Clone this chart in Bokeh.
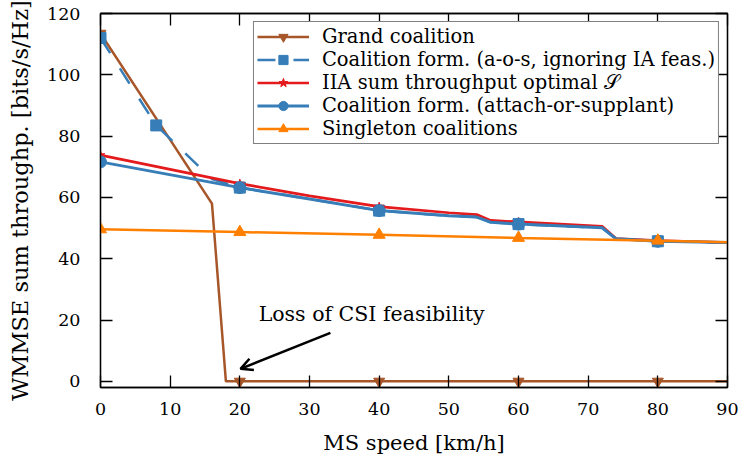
import numpy as np
from bokeh.plotting import figure
from bokeh.models import (Range1d, LinearAxis, FixedTicker, Legend, LegendItem,
                          Label, Arrow, OpenHead, CustomLabelingPolicy)
from bokeh.embed import file_html
from bokeh.resources import INLINE

# ---- data ----
speed_grand = [0, 16, 18, 20, 40, 60, 80, 90]
thr_grand = [113.5, 58, 0, 0, 0, 0, 0, 0]

speed_aos = [0, 8, 16, 20, 30, 40, 50, 54, 56, 60, 72, 74, 80, 90]
thr_aos = [112, 83.5, 66, 63.2, 59.5, 55.7, 54, 53.6, 51.9, 51.3, 50.1, 46.5, 45.7, 45.3]

speed_iia = [0, 20, 30, 40, 50, 54, 56, 60, 72, 74, 80, 90]
thr_iia = [73.8, 64.5, 60.5, 57, 55, 54.4, 52.5, 52, 50.6, 46.6, 45.9, 45.3]

speed_att = [0, 20, 30, 40, 50, 54, 56, 60, 72, 74, 80, 90]
thr_att = [71.6, 63.2, 59.5, 55.7, 54, 53.6, 51.9, 51.3, 50.1, 46.5, 45.7, 45.3]

speed_single = [0, 20, 40, 60, 80, 90]
thr_single = [49.6, 48.7, 47.8, 46.8, 45.9, 45.4]

mark_grand = [0, 20, 40, 60, 80]
mark_aos = [0, 8, 20, 40, 60, 80]
mark_std = [0, 20, 40, 60, 80]

x_ticks = [0, 10, 20, 30, 40, 50, 60, 70, 80, 90]
y_ticks = [0, 20, 40, 60, 80, 100, 120]

labels = ["Grand coalition",
          "Coalition form. (a-o-s, ignoring IA feas.)",
          "IIA sum throughput optimal \U0001D4AE",
          "Coalition form. (attach-or-supplant)",
          "Singleton coalitions"]

annot_text = "Loss of CSI feasibility"

FONT = "DejaVu Serif"
BROWN, BLUE, RED, ORANGE = "#a65628", "#377eb8", "#e41a1c", "#ff7f00"


def pick(xs, ys, keep):
    xs = np.asarray(xs, float)
    ys = np.asarray(ys, float)
    m = np.isin(xs, keep)
    return xs[m], ys[m]


p = figure(width=741, height=459, output_backend="svg", toolbar_location=None,
           x_range=Range1d(0, 90), y_range=Range1d(-2, 120),
           min_border_left=100, min_border_right=14, min_border_top=13, min_border_bottom=72)
p.xgrid.visible = False
p.ygrid.visible = False
p.outline_line_color = "black"
p.outline_line_width = 1.3
p.background_fill_color = "white"
p.border_fill_color = "white"

# series
r1 = p.line(speed_grand, thr_grand, color=BROWN, line_width=2.5)
mx, my = pick(speed_grand, thr_grand, mark_grand)
s1 = p.scatter(mx, my, marker="inverted_triangle", size=11, color=BROWN)

r2 = p.line(speed_aos, thr_aos, color=BLUE, line_width=2.5, line_dash="18 18")
mx, my = pick(speed_aos, thr_aos, mark_aos)
s2 = p.scatter(mx, my, marker="square", size=11, color=BLUE)

r3 = p.line(speed_iia, thr_iia, color=RED, line_width=2.7)
mx, my = pick(speed_iia, thr_iia, mark_std)
s3 = p.scatter(mx, my, marker="star", size=9, color=RED)

r4 = p.line(speed_att, thr_att, color=BLUE, line_width=3)
mx, my = pick(speed_att, thr_att, mark_std)
s4 = p.scatter(mx, my, marker="circle", size=12, color=BLUE)

r5 = p.line(speed_single, thr_single, color=ORANGE, line_width=2.5)
mx, my = pick(speed_single, thr_single, mark_std)
s5 = p.scatter(mx, my, marker="triangle", size=12, color=ORANGE)

# axes
for ax in (p.xaxis[0], p.yaxis[0]):
    ax.major_tick_in = 12
    ax.major_tick_out = 0
    ax.minor_tick_in = 0
    ax.minor_tick_out = 0
    ax.axis_line_width = 1.3
    ax.major_tick_line_width = 1.3
    ax.major_label_text_font = FONT
    ax.major_label_text_font_size = "17.5px"
    ax.major_label_text_color = "black"
    ax.axis_label_text_font = FONT
    ax.axis_label_text_font_style = "normal"
    ax.axis_label_text_color = "black"

p.xaxis[0].ticker = FixedTicker(ticks=x_ticks)
p.yaxis[0].ticker = FixedTicker(ticks=y_ticks)
p.xaxis[0].axis_label = "MS speed [km/h]"
p.yaxis[0].axis_label = "WMMSE sum throughp. [bits/s/Hz]"
p.xaxis[0].axis_label_text_font_size = "21px"
p.yaxis[0].axis_label_text_font_size = "22.5px"
p.xaxis[0].major_label_standoff = 15
p.xaxis[0].axis_label_standoff = 13
p.yaxis[0].major_label_standoff = 20
p.yaxis[0].axis_label_standoff = 11

# mirrored tick axes (top / right) without labels
top = LinearAxis(ticker=FixedTicker(ticks=x_ticks), major_label_text_font_size="1px",
                 major_label_policy=CustomLabelingPolicy(code="return []"),
                 major_tick_in=12, major_tick_out=0, minor_tick_in=0, minor_tick_out=0,
                 major_label_standoff=0, axis_line_width=1.3, major_tick_line_width=1.3)
right = LinearAxis(ticker=FixedTicker(ticks=y_ticks), major_label_text_font_size="1px",
                   major_label_policy=CustomLabelingPolicy(code="return []"),
                   major_tick_in=12, major_tick_out=0, minor_tick_in=0, minor_tick_out=0,
                   major_label_standoff=0, axis_line_width=1.3, major_tick_line_width=1.3)
p.add_layout(top, "above")
p.add_layout(right, "right")

# annotation
p.add_layout(Label(x=22.7, y=22.1, text=annot_text, text_font=FONT,
                   text_font_size="20.5px", text_baseline="middle", text_align="left",
                   text_color="black"))
p.add_layout(Arrow(x_start=33.0, y_start=15.8, x_end=20.1, y_end=4.1,
                   line_width=2.5, line_color="black",
                   end=OpenHead(size=12, line_width=2.5, line_color="black")))

legend = Legend(items=[LegendItem(label=labels[0], renderers=[r1, s1]),
                       LegendItem(label=labels[1], renderers=[r2, s2]),
                       LegendItem(label=labels[2], renderers=[r3, s3]),
                       LegendItem(label=labels[3], renderers=[r4, s4]),
                       LegendItem(label=labels[4], renderers=[r5, s5])],
                location="top_right", margin=8, padding=3, spacing=0,
                glyph_width=52, glyph_height=23, label_height=23, label_standoff=13,
                label_text_font=FONT, label_text_font_size="19.5px",
                label_text_baseline="middle", label_text_color="black",
                border_line_color="black", border_line_width=1.2,
                background_fill_color="white", background_fill_alpha=1.0)
p.add_layout(legend, "center")

open("out.html", "w").write(file_html(p, INLINE))
